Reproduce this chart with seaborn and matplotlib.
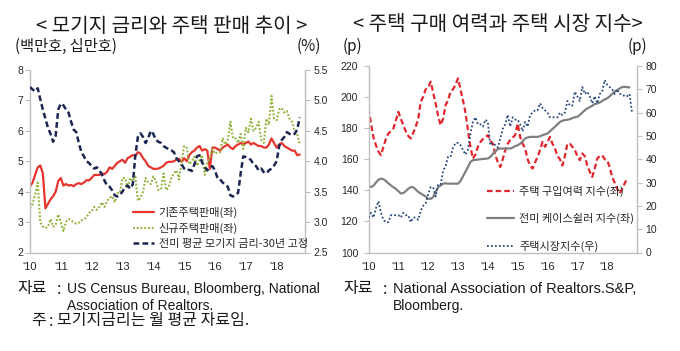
import numpy as np
import pandas as pd
import matplotlib
matplotlib.use("Agg")
import matplotlib.pyplot as plt
import seaborn as sns

# ---------------- data (monthly, from Jan 2010) ----------------
existing_sales = [  # 기존주택판매 (백만호)
    4.17, 4.30, 4.55, 4.80, 4.86, 4.60, 3.45, 3.60, 3.75, 3.85, 4.00, 4.35,
    4.45, 4.20, 4.25, 4.20, 4.22, 4.18, 4.25, 4.28, 4.25, 4.30, 4.38, 4.37,
    4.45, 4.55, 4.55, 4.55, 4.60, 4.58, 4.65, 4.80, 4.75, 4.85, 4.95, 5.00,
    5.05, 4.95, 5.10, 5.15, 5.20, 5.18, 5.30, 5.25, 5.10, 5.00, 4.85, 4.80,
    4.75, 4.75, 4.76, 4.80, 4.85, 4.95, 4.98, 4.98, 5.00, 5.05, 5.08, 4.98,
    5.10, 5.00, 5.20, 5.30, 5.35, 5.45, 5.50, 5.35, 5.40, 5.35, 4.75, 5.45,
    5.45, 5.40, 5.35, 5.45, 5.50, 5.55, 5.45, 5.40, 5.50, 5.55, 5.60, 5.55,
    5.60, 5.65, 5.55, 5.60, 5.55, 5.50, 5.50, 5.45, 5.45, 5.55, 5.75, 5.60,
    5.45, 5.55, 5.60, 5.50, 5.45, 5.40, 5.35, 5.35, 5.20, 5.22]
new_sales = [  # 신규주택판매 (십만호)
    3.45, 3.60, 3.90, 4.30, 3.00, 2.85, 2.80, 2.85, 3.10, 2.85, 2.90, 3.25,
    3.00, 2.70, 3.00, 3.10, 3.05, 3.00, 2.95, 2.98, 3.05, 3.10, 3.15, 3.30,
    3.35, 3.50, 3.40, 3.50, 3.65, 3.50, 3.70, 3.80, 3.85, 3.65, 3.95, 3.95,
    4.45, 4.45, 4.15, 4.45, 4.35, 4.50, 3.70, 3.80, 4.00, 4.45, 4.30, 4.25,
    4.50, 4.35, 4.05, 4.10, 4.60, 4.05, 4.15, 4.45, 4.60, 4.70, 4.40, 5.00,
    5.50, 5.45, 4.90, 5.00, 5.15, 4.85, 5.05, 5.20, 4.55, 4.95, 5.10, 5.40,
    5.25, 5.30, 5.30, 5.75, 5.55, 5.70, 6.30, 5.75, 5.75, 5.60, 5.90, 5.40,
    6.10, 5.95, 6.40, 6.00, 6.10, 6.30, 5.70, 5.60, 6.40, 6.20, 7.15, 6.40,
    6.35, 6.70, 6.75, 6.60, 6.65, 6.40, 6.30, 6.00, 5.90, 5.55]
mortgage_rate = [  # 전미 평균 모기지 금리-30년 고정 (%)
    5.22, 5.18, 5.15, 5.20, 5.02, 4.85, 4.70, 4.55, 4.45, 4.32, 4.42, 4.85,
    4.95, 4.92, 4.85, 4.80, 4.65, 4.52, 4.48, 4.30, 4.15, 4.08, 4.00, 3.97,
    3.92, 3.88, 3.90, 3.85, 3.78, 3.68, 3.60, 3.58, 3.52, 3.44, 3.42, 3.45,
    3.50, 3.58, 3.60, 3.55, 3.62, 4.10, 4.40, 4.46, 4.40, 4.30, 4.38, 4.50,
    4.45, 4.35, 4.32, 4.30, 4.25, 4.22, 4.20, 4.18, 4.15, 4.05, 4.00, 3.95,
    3.88, 3.85, 3.86, 3.84, 3.95, 4.08, 4.10, 3.98, 3.90, 3.85, 3.90, 3.92,
    3.85, 3.72, 3.70, 3.65, 3.62, 3.58, 3.44, 3.42, 3.45, 3.48, 3.80, 4.08,
    4.07, 4.05, 4.02, 3.95, 3.92, 3.85, 3.88, 3.82, 3.80, 3.85, 3.88, 3.93,
    4.00, 4.25, 4.35, 4.40, 4.48, 4.45, 4.43, 4.45, 4.52, 4.72]

affordability = [  # 주택 구입여력 지수
    192.7, 183, 174, 169, 165, 162.6, 168, 173, 176.6, 178, 179.8, 185,
    190.5, 186, 182, 178, 175, 173.4, 177, 181, 186, 197, 200.2, 205,
    206, 209.9, 203, 195.9, 188, 181.9, 186, 194.8, 198, 203.4, 205, 208,
    212, 205, 198, 190, 178.7, 168, 160.4, 163, 168, 171, 173, 174,
    175.5, 172, 170.1, 163, 158, 155, 160, 165.8, 170, 172.3, 174, 175.5,
    183, 174.4, 170, 167, 160, 156, 154, 158, 161.5, 166, 171.2, 168,
    171, 174.4, 170, 167, 162, 160, 156, 162, 170, 170, 168, 166,
    162, 159.4, 163.7, 162, 156, 152, 148.6, 154, 160.4, 162, 162.6, 160,
    159.4, 155, 148.6, 145, 141, 137.9, 141, 144.3, 147.5]
case_shiller = [  # 전미 케이스쉴러 지수
    143.2, 142.1, 143, 145, 146.8, 147.5, 147.2, 146, 144.5, 143.2, 142, 141,
    139.5, 138, 138.2, 139.5, 141, 142.1, 142, 140.5, 139, 138, 137, 136,
    134.6, 134.5, 135.7, 139, 142, 143.2, 144.3, 144.5, 144.3, 144.3, 144.3, 144.3,
    144.3, 146, 149, 152, 155, 158.3, 159.4, 159.6, 159.8, 160, 160.2, 160.3,
    160.5, 161.5, 163.5, 165, 166.5, 166.9, 166.9, 166.9, 166.9, 166.9, 167.5, 168.5,
    169, 170, 171.5, 173.4, 174, 174.4, 174.4, 174.4, 174.4, 174.8, 175.5, 176,
    176.6, 178, 179.5, 180.9, 182.5, 184, 184.8, 185.2, 185.4, 185.8, 186.5, 187,
    187.3, 188.5, 190, 191.5, 192.7, 193.5, 194.5, 195.5, 195.9, 196.5, 197.5, 198.5,
    199.2, 200.5, 202, 203.5, 204.5, 205.5, 206.4, 206.6, 206.4, 206.2]
market_index = [  # 주택시장지수
    15, 17, 15, 19, 22, 17, 14, 13, 13, 16, 16, 16,
    16, 15, 17, 16, 16, 13, 15, 15, 14, 18, 20, 21,
    25, 28, 28, 24, 29, 29, 35, 37, 41, 41, 45, 47,
    47, 46, 44, 42, 44, 51, 56, 58, 55, 55, 54, 57,
    56, 46, 47, 46, 45, 49, 53, 55, 59, 54, 58, 57,
    57, 55, 52, 56, 54, 59, 60, 61, 61, 64, 62, 61,
    60, 58, 58, 58, 58, 60, 59, 60, 65, 63, 63, 69,
    67, 65, 71, 68, 69, 67, 64, 67, 64, 68, 69, 74,
    72, 71, 70, 68, 70, 68, 68, 67, 67, 68, 60]

tick_years = list(range(2010, 2019))
tick_labels = ["'10", "'11", "'12", "'13", "'14", "'15", "'16", "'17", "'18"]

labels_left = ["기존주택판매(좌)", "신규주택판매(좌)", "전미 평균 모기지 금리-30년 고정"]
labels_right = ["주택 구입여력 지수(좌)", "전미 케이스쉴러 지수(좌)", "주택시장지수(우)"]


def monthly(values):
    return pd.DataFrame({"t": 2010 + np.arange(len(values)) / 12.0, "v": values})


# ---------------- style ----------------
sns.set_theme(style="white")
plt.rcParams["font.family"] = ["Noto Sans CJK KR", "DejaVu Sans"]

W, H = 680, 351
fig = plt.figure(figsize=(6.8, 3.51), dpi=100)
SPINE = "#BFBFBF"
TXT = "#262626"


def fx(px):
    return px / W


def fy(py):
    return 1 - py / H


def style_axes(ax, axr, xlim, lpad, rpad):
    ax.set_xlim(*xlim)
    ax.set_xticks(tick_years)
    ax.set_xticklabels(tick_labels)
    for a in (ax, axr):
        for s in a.spines.values():
            s.set_color(SPINE)
            s.set_linewidth(1.0)
        a.spines["top"].set_visible(False)
        a.set_xlabel("")
        a.set_ylabel("")
        a.grid(False)
    ax.spines["right"].set_visible(False)
    axr.spines["left"].set_visible(False)
    axr.spines["bottom"].set_visible(False)
    ax.tick_params(axis="x", length=0, pad=7, labelsize=8, labelcolor=TXT,
                   labelfontfamily="Liberation Sans")
    ax.tick_params(axis="y", left=True, length=3.5, width=0.8, color=SPINE, pad=lpad,
                   labelsize=7.5, labelcolor=TXT, labelfontfamily="Liberation Sans")
    axr.tick_params(axis="y", right=True, length=3.5, width=0.8, color=SPINE, pad=rpad,
                    labelsize=7.5, labelcolor=TXT, labelfontfamily="Liberation Sans")


# ---------------- left chart ----------------
ax1 = fig.add_axes([fx(30), fy(252.5), fx(305) - fx(30), fy(70) - fy(252.5)])
ax1r = ax1.twinx()

sns.lineplot(data=monthly(existing_sales), x="t", y="v", ax=ax1, color="#E5352E",
             lw=1.6, errorbar=None, legend=False)
sns.lineplot(data=monthly(new_sales), x="t", y="v", ax=ax1, color="#93B53F",
             lw=1.5, errorbar=None, legend=False)
sns.lineplot(data=monthly(mortgage_rate), x="t", y="v", ax=ax1r, color="#1C2653",
             lw=1.8, errorbar=None, legend=False)
l_red, l_green = ax1.get_lines()[0], ax1.get_lines()[1]
l_navy = ax1r.get_lines()[0]
l_green.set_linestyle((0, (0.9, 0.9)))
l_navy.set_linestyle((0, (2.3, 1.3)))

ax1.set_ylim(2, 8)
ax1.set_yticks(range(2, 9))
ax1r.set_ylim(2.5, 5.5)
ax1r.set_yticks(np.arange(2.5, 5.51, 0.5))
ax1r.set_yticklabels([f"{v:.1f}" for v in np.arange(2.5, 5.51, 0.5)])
style_axes(ax1, ax1r, (2010, 2018.92), 1.5, 2.5)

ax1r.legend([l_red, l_green, l_navy], labels_left, loc="upper left",
            bbox_to_anchor=(fx(133), fy(207)), bbox_transform=fig.transFigure,
            frameon=False, borderpad=0, borderaxespad=0, fontsize=8,
            labelspacing=0.45, handlelength=1.9, handletextpad=0.4,
            labelcolor=TXT)

# ---------------- right chart ----------------
ax2 = fig.add_axes([fx(368.5), fy(252.5), fx(637) - fx(368.5), fy(66) - fy(252.5)])
ax2r = ax2.twinx()

sns.lineplot(data=monthly(affordability), x="t", y="v", ax=ax2, color="#E2262E",
             lw=1.6, errorbar=None, legend=False)
sns.lineplot(data=monthly(case_shiller), x="t", y="v", ax=ax2, color="#808080",
             lw=1.6, errorbar=None, legend=False)
sns.lineplot(data=monthly(market_index), x="t", y="v", ax=ax2r, color="#2B4A7E",
             lw=1.3, errorbar=None, legend=False)
r_red, r_gray = ax2.get_lines()[0], ax2.get_lines()[1]
r_blue = ax2r.get_lines()[0]
r_red.set_linestyle((0, (2.5, 1.4)))
r_blue.set_linestyle((0, (1.0, 1.2)))

ax2.set_ylim(100, 220)
ax2.set_yticks(range(100, 221, 20))
ax2r.set_ylim(0, 80)
ax2r.set_yticks(range(0, 81, 10))
style_axes(ax2, ax2r, (2010, 2019.0), 4, 2.5)

ax2r.legend([r_red, r_gray, r_blue], labels_right, loc="upper left",
            bbox_to_anchor=(fx(487), fy(186)), bbox_transform=fig.transFigure,
            frameon=False, borderpad=0, borderaxespad=0, fontsize=8,
            labelspacing=1.45, handlelength=2.4, handletextpad=0.5,
            labelcolor=TXT)

# ---------------- titles & units ----------------
fig.text(fx(172), fy(26), "< 모기지 금리와 주택 판매 추이 >", ha="center", va="center",
         fontsize=14.5, color="#1A1A1A")
fig.text(fx(498), fy(24), "< 주택 구매 여력과 주택 시장 지수>", ha="center", va="center",
         fontsize=14.5, color="#1A1A1A")
fig.text(fx(15), fy(46), "(백만호, 십만호)", ha="left", va="center", fontsize=11, color="#1A1A1A")
fig.text(fx(309), fy(46), "(%)", ha="center", va="center", fontsize=11, color="#1A1A1A")
fig.text(fx(352), fy(46), "(p)", ha="center", va="center", fontsize=11, color="#1A1A1A")
fig.text(fx(637), fy(46), "(p)", ha="center", va="center", fontsize=11, color="#1A1A1A")

# ---------------- footnotes ----------------
KF = 11.5
LF = 10
fig.text(fx(17), fy(289), "자료", ha="left", va="center", fontsize=KF, color="#1A1A1A")
fig.text(fx(59), fy(289), ":", ha="center", va="center", fontsize=KF, color="#1A1A1A")
fig.text(fx(67), fy(289), "US Census Bureau, Bloomberg, National", ha="left", va="center",
         fontsize=LF, family="Liberation Sans", color="#1A1A1A")
fig.text(fx(67), fy(306), "Association of Realtors.", ha="left", va="center",
         fontsize=LF, family="Liberation Sans", color="#1A1A1A")
fig.text(fx(31), fy(321), "주", ha="left", va="center", fontsize=KF, color="#1A1A1A")
fig.text(fx(51), fy(321), ":", ha="center", va="center", fontsize=KF, color="#1A1A1A")
fig.text(fx(57), fy(321), "모기지금리는 월 평균 자료임.", ha="left", va="center",
         fontsize=11.5, color="#1A1A1A")

fig.text(fx(343), fy(289), "자료", ha="left", va="center", fontsize=KF, color="#1A1A1A")
fig.text(fx(385), fy(289), ":", ha="center", va="center", fontsize=KF, color="#1A1A1A")
fig.text(fx(393), fy(289), "National Association of Realtors.S&P,", ha="left", va="center",
         fontsize=10.5, family="Liberation Sans", color="#1A1A1A")
fig.text(fx(393), fy(306), "Bloomberg.", ha="left", va="center",
         fontsize=LF, family="Liberation Sans", color="#1A1A1A")

fig.savefig("out.png", dpi=100, facecolor="white")
